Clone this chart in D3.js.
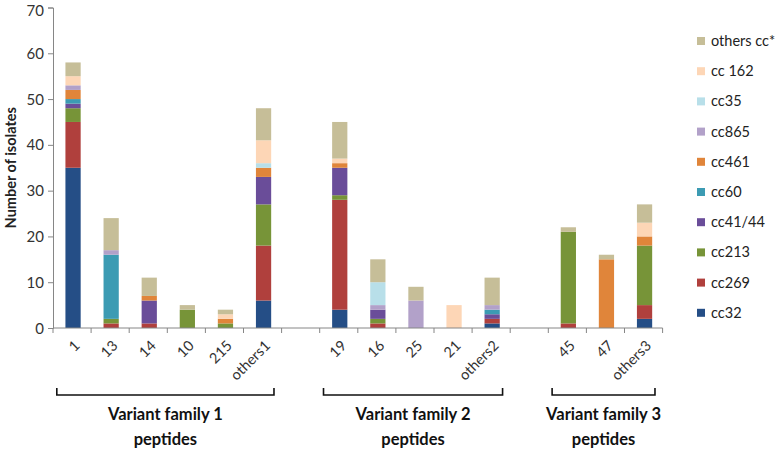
<!DOCTYPE html>
<html><head><meta charset="utf-8">
<script src="https://cdn.jsdelivr.net/npm/d3@7"></script>
<style>body{margin:0;background:#fff;} svg{display:block;}</style>
</head><body>
<svg id="c" width="780" height="449"></svg>
<script>
// Categories (gap slots separate the variant families)
const categories = ["1","13","14","10","215","others1","gap1","19","16","25","21","others2","gap2","45","47","others3"];
const categoryLabels = ["1","13","14","10","215","others1","","19","16","25","21","others2","","45","47","others3"];
const seriesNames = ["cc32","cc269","cc213","cc41/44","cc60","cc461","cc865","cc35","cc 162","others cc*"];
const seriesColors = ["#254E86","#B0403D","#779438","#6A4D99","#3C9BB3","#E0853A","#B2A1C9","#B8DFE9","#FDD6B6","#C6BE98"];
const cc32      = [35,0,0,0,0,6,0,4,0,0,0,1,0,0,0,2];
const cc269     = [10,1,1,0,0,12,0,24,1,0,0,1,0,1,0,3];
const cc213     = [3,1,0,4,1,9,0,1,1,0,0,0,0,20,0,13];
const cc4144    = [1,0,5,0,0,6,0,6,2,0,0,1,0,0,0,0];
const cc60      = [1,14,0,0,0,0,0,0,0,0,0,1,0,0,0,0];
const cc461     = [2,0,1,0,1,2,0,1,0,0,0,0,0,0,15,2];
const cc865     = [1,1,0,0,0,0,0,0,1,6,0,1,0,0,0,0];
const cc35      = [0,0,0,0,0,1,0,0,5,0,0,0,0,0,0,0];
const cc162     = [2,0,0,0,1,5,0,1,0,0,5,0,0,0,0,3];
const othersCC  = [3,7,4,1,1,7,0,8,5,3,0,6,0,1,1,4];
const seriesValues = [cc32,cc269,cc213,cc4144,cc60,cc461,cc865,cc35,cc162,othersCC];
const yTicks = [0,10,20,30,40,50,60,70];
const families = [
  {first:"1", last:"others1", lines:["Variant family 1","peptides"]},
  {first:"19", last:"others2", lines:["Variant family 2","peptides"]},
  {first:"45", last:"others3", lines:["Variant family 3","peptides"]}
];

const svg = d3.select("#c");
const font = "Lato, 'Open Sans', sans-serif";
const axisColor = "#868686";
const x = d3.scaleBand().domain(categories).range([53, 662.6]).paddingInner(0).paddingOuter(0);
const y = d3.scaleLinear().domain([0,70]).range([328, 7.5]);
const bw = x.bandwidth();
const barW = bw*0.4;

// stacked data
const rows = categories.map((c,i)=>{
  const r = {cat:c};
  seriesNames.forEach((s,j)=> r[s] = seriesValues[j][i]);
  return r;
});
const stack = d3.stack().keys(seriesNames)(rows);

const g = svg.append("g");
stack.forEach((layer,j)=>{
  g.selectAll(null).data(layer.filter(d=>d[1]-d[0]>0)).enter().append("rect")
    .attr("x", d=> x(d.data.cat) + bw/2 - barW/2 + 1)
    .attr("width", barW)
    .attr("y", d=> y(d[1]))
    .attr("height", d=> y(d[0]) - y(d[1]))
    .attr("fill", seriesColors[j]);
});

// Y axis
const yAxis = svg.append("g").attr("transform","translate(53,0)")
  .call(d3.axisLeft(y).tickValues(yTicks).tickSize(5).tickPadding(4));
yAxis.select(".domain").attr("stroke",axisColor);
yAxis.selectAll(".tick line").attr("stroke",axisColor);
yAxis.selectAll(".tick text").attr("font-family",font).attr("font-size","15px").attr("fill","#333")
  .attr("dy", d => d === 70 ? "0.5em" : "0.34em");

// X axis
svg.append("line").attr("x1",53).attr("x2",662.6).attr("y1",y(0)).attr("y2",y(0)).attr("stroke",axisColor);
const bounds = categories.map(c=>x(c)).concat([x(categories[categories.length-1])+bw]);
svg.selectAll(null).data(bounds).enter().append("line")
  .attr("x1",d=>d).attr("x2",d=>d).attr("y1",y(0)).attr("y2",y(0)+5).attr("stroke",axisColor);

svg.selectAll(null).data(categories).enter().append("text")
  .attr("transform",(d)=>`translate(${x(d)+bw/2+5},${y(0)+15}) rotate(-45)`)
  .attr("text-anchor","end").attr("dy","0.35em")
  .attr("font-family",font).attr("font-size","14.5px").attr("fill","#333")
  .text((d,i)=>categoryLabels[i]);

// Y title
svg.append("text").attr("transform",`translate(16,${(y(0)+y(70))/2}) rotate(-90)`)
  .attr("text-anchor","middle").attr("font-family",font).attr("font-weight","bold")
  .attr("font-size","14.5px").attr("fill","#222").text("Number of isolates");

// family brackets
const brY = 395;
families.forEach(f=>{
  const x1 = x(f.first)+bw*0.1, x2 = x(f.last)+bw*0.8;
  svg.append("path").attr("d",`M${x1},${brY-7}V${brY}H${x2}V${brY-7}`)
    .attr("fill","none").attr("stroke","#111").attr("stroke-width",1.6);
  f.lines.forEach((t,k)=>{
    svg.append("text").attr("x",(x1+x2)/2).attr("y",brY+25+k*25)
      .attr("text-anchor","middle").attr("font-family",font).attr("font-weight","bold")
      .attr("font-size","16.5px").attr("fill","#111").text(t);
  });
});

// Legend (top to bottom reversed order)
const legendOrder = seriesNames.map((s,i)=>i).reverse();
const lg = svg.append("g");
legendOrder.forEach((si,k)=>{
  const cy = 41 + k*30.2;
  lg.append("rect").attr("x",697).attr("y",cy-4).attr("width",8).attr("height",8).attr("fill",seriesColors[si]);
  lg.append("text").attr("x",711).attr("y",cy).attr("dy","0.35em")
    .attr("font-family",font).attr("font-size","14.5px").attr("fill","#222").text(seriesNames[si]);
});
</script>
</body></html>
